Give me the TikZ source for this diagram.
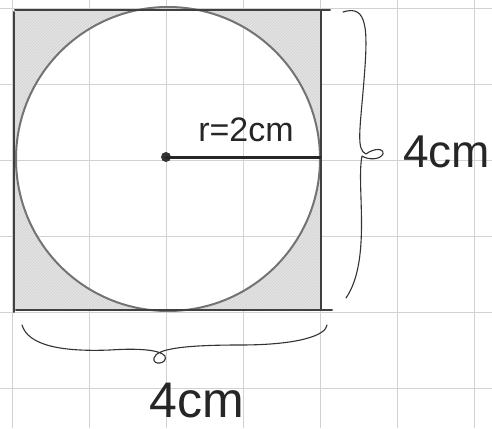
\documentclass[tikz,border=0pt]{standalone}
\usepackage{fontspec}
\setmainfont{Liberation Sans}
\usetikzlibrary{patterns}
\begin{document}
\begin{tikzpicture}[x=1pt,y=-1pt,
  gridline/.style={draw=gray!35, line width=0.6pt},
  pencil/.style={draw=black!75, line width=2pt, line cap=round, line join=round},
  thinpencil/.style={draw=black!80, line width=1.1pt, line cap=round, line join=round},
  label/.style={font=\fontsize{#1}{#1}\selectfont, text=black!85, inner sep=0pt}]
\useasboundingbox (0,0) rectangle (492,428);
\fill[white] (0,0) rectangle (492,428);
% grid paper
\foreach \x in {12,89,166,243,320,397,474} \draw[gridline] (\x,0) -- (\x,428);
\foreach \y in {8,84,160,236,312,388} \draw[gridline] (0,\y) -- (492,\y);
% shaded corners
\fill[gray!22, even odd rule] (15,10) rectangle (321,310) (168,159) circle[radius=152];
\fill[pattern=north east lines, pattern color=gray!35, even odd rule] (15,10) rectangle (321,310) (168,159) circle[radius=152];
% circle and square
\draw[pencil, draw=black!55] (168,159) circle[radius=152];
\draw[pencil] (15,10) -- (330,10);
\draw[pencil] (14,12) -- (14,312);
\draw[pencil] (321,10) -- (321,310);
\draw[pencil] (16,310) -- (332,310);
% radius
\node[circle, fill=black!80, minimum size=10pt, inner sep=0pt] (c) at (166,157) {};
\coordinate (rend) at (320,157);
\draw[pencil, draw=black!85, line width=3pt] (c.center) -- (rend);
\node[label=34] (r) at (246,130) {r=2cm};
% right brace
\draw[thinpencil] (343,12) .. controls (368,4) and (368,30) .. (364,80)
  .. controls (360,130) and (356,150) .. (366,154)
  .. controls (374,148) and (384,148) .. (383,154)
  .. controls (380,160) and (368,160) .. (362,156)
  .. controls (356,185) and (372,260) .. (346,298);
\node[label=46, anchor=west] (h) at (403,152) {4cm};
% bottom brace
\draw[thinpencil] (22,325) .. controls (28,345) and (60,352) .. (110,350)
  .. controls (140,348) and (160,350) .. (165,356)
  .. controls (168,364) and (152,366) .. (154,358)
  .. controls (156,348) and (190,345) .. (240,345)
  .. controls (300,345) and (326,335) .. (327,325);
\node[label=50] (w) at (197,401) {4cm};
\end{tikzpicture}
\end{document}
